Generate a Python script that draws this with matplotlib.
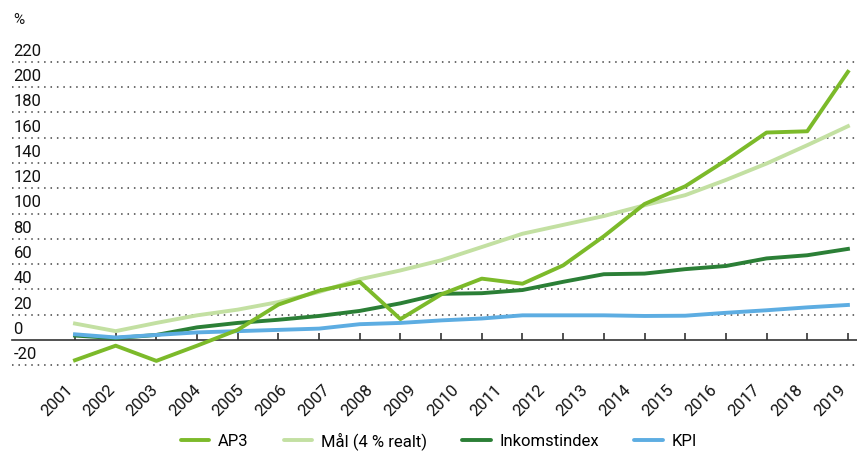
import numpy as np
import matplotlib
matplotlib.use("Agg")
import matplotlib.pyplot as plt
from matplotlib import transforms

plt.rcParams['font.family'] = ['Roboto', 'DejaVu Sans']

# Data (20 points along the axis, 19 year labels spread over it)
ap3 = [-16, -4.5, -16.5, -4.5, 8, 28, 39, 46, 16.5, 36, 48.5, 44.5, 59, 82, 107.5, 121.5, 142, 164, 165, 212]
mal = [13, 7, 13.5, 19.5, 24, 30, 38, 48, 55, 63, 73.5, 84, 91, 98, 106.5, 114.5, 126.5, 139.5, 154, 169]
inkomst = [3.5, 1.5, 4, 10, 13.5, 16, 19, 23, 29, 36.5, 37, 39.5, 46, 52, 52.5, 56, 58.5, 64.5, 67, 72]
kpi = [4.5, 2, 4, 6, 7, 8, 9, 12.5, 13.5, 15.5, 17, 19.5, 19.5, 19.5, 19, 19.2, 21.5, 23.5, 25.8, 27.7]
years = [str(y) for y in range(2001, 2020)]
yticks = list(range(-20, 221, 20))

series_names = ['AP3', 'Mål (4 % realt)', 'Inkomstindex', 'KPI']
colors = ['#7cba2a', '#c3e0a2', '#2b7f36', '#5dade2']

W, H = 857, 455
fig = plt.figure(figsize=(W / 100, H / 100), dpi=100)

# axes placement in pixels
x0, x1 = 12, 857
ylo, yhi = -22, 222
px_per_unit = 25.3 / 20
zero_px = 340
bottom_px = zero_px + (0 - ylo) * px_per_unit
top_px = zero_px - yhi * px_per_unit
ax = fig.add_axes([x0 / W, 1 - bottom_px / H, (x1 - x0) / W, (bottom_px - top_px) / H])

n = len(ap3)
xs = np.arange(n)
step = 40.68
ax.set_xlim(-(75 - x0) / step, (x1 - 75) / step)
ax.set_ylim(ylo, yhi)

lw = 2.8
ax.plot(xs, inkomst, color=colors[2], lw=lw, label=series_names[2], zorder=3)
ax.plot(xs, kpi, color=colors[3], lw=lw, label=series_names[3], zorder=4)
ax.plot(xs, mal, color=colors[1], lw=lw, label=series_names[1], zorder=5)
ax.plot(xs, ap3, color=colors[0], lw=lw, label=series_names[0], zorder=6)

# dotted grid
for t in yticks:
    if t != 0:
        ax.axhline(t, color='#444444', lw=1.1, ls=(0, (1, 3.2)), zorder=1)

# y labels sitting above grid lines
trans = transforms.blended_transform_factory(ax.transAxes, ax.transData)
for t in yticks:
    ax.annotate(str(t), xy=(0, t), xycoords=trans, xytext=(1, 2.2), textcoords='offset points',
                ha='left', va='bottom', fontsize=12, color='#111111')

for s in ['top', 'right', 'left']:
    ax.spines[s].set_visible(False)
ax.spines['bottom'].set_position(('data', 0))
ax.spines['bottom'].set_color('#333333')
ax.spines['bottom'].set_linewidth(1.2)
ax.spines['bottom'].set_zorder(2)
ax.set_yticks([])
ax.set_xticks(xs)
ax.tick_params(axis='x', direction='in', length=5, width=1.2, color='#333333', labelbottom=False)

# year labels spread across the data range, rotated 45 deg
xtrans = transforms.blended_transform_factory(ax.transData, ax.transAxes)
for pos, yr in zip(np.linspace(0, n - 1, len(years)), years):
    ax.annotate(yr, xy=(pos, 0), xycoords=xtrans, xytext=(-3.5, -14), textcoords='offset points',
                ha='right', va='center', rotation=45, rotation_mode='anchor',
                fontsize=12, color='#111111', annotation_clip=False)

fig.text(13 / W, 1 - 20 / H, '%', fontsize=11, ha='left', va='center', color='#111111')

handles, labels = ax.get_legend_handles_labels()
order = [labels.index(s) for s in series_names]
leg = fig.legend([handles[i] for i in order], [labels[i] for i in order], loc='center',
                 bbox_to_anchor=(439 / W, 1 - 441 / H), ncol=4, frameon=False, fontsize=12,
                 handlelength=1.7, handletextpad=0.55, columnspacing=2.1)
for h in leg.get_lines():
    h.set_solid_capstyle('round')

plt.savefig('out.png', dpi=100)
